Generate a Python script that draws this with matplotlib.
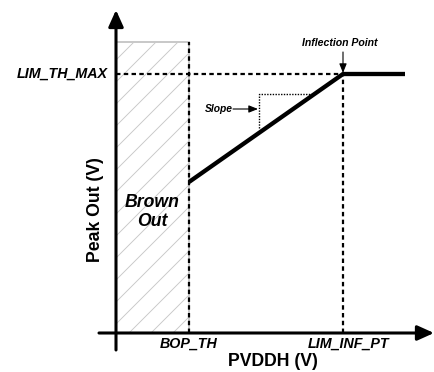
import matplotlib
matplotlib.use("Agg")
import matplotlib.pyplot as plt
from matplotlib.patches import Rectangle

plt.rcParams['font.family'] = ['Liberation Sans', 'DejaVu Sans']
plt.rcParams['hatch.color'] = '#d9d9d9'
plt.rcParams['hatch.linewidth'] = 1.0

# low dpi so the hatch spacing comes out wide; sizes scaled back by K
DPI = 66
K = 100.0 / DPI

# Constants (arbitrary units, origin at the axes crossing)
BOP_TH = 73
LIM_INF_PT = 227
X_END = 289
LIM_TH_MAX = 259
PEAK_AT_BOP = 151
BROWN_TOP = 291

# curve points
curve_x = [BOP_TH, LIM_INF_PT, X_END]
curve_y = [PEAK_AT_BOP, LIM_TH_MAX, LIM_TH_MAX]

# slope triangle
slope_x = [143, 143, 196]
slope_y = [205, 239, 239]

fig = plt.figure(figsize=(434 / DPI, 372 / DPI), dpi=DPI)
ax = fig.add_axes([0, 0, 1, 1])
ax.set_xlim(-116, 318)
ax.set_ylim(-39, 333)
ax.axis('off')

# brown out region
ax.add_patch(Rectangle((0, 0), BOP_TH, BROWN_TOP, facecolor='white',
                       edgecolor='#c8c8c8', hatch='/', linewidth=1.4 * K))

# dashed guides
dash = (0, (2, 1.5))
ax.plot([BOP_TH, BOP_TH], [0, BROWN_TOP], color='black', lw=1.6 * K, ls=dash)
ax.plot([LIM_INF_PT, LIM_INF_PT], [0, LIM_TH_MAX], color='black', lw=1.6 * K, ls=dash)
ax.plot([0, LIM_INF_PT], [LIM_TH_MAX, LIM_TH_MAX], color='black', lw=1.6 * K, ls=dash)

# slope triangle
ax.plot(slope_x, slope_y, color='black', lw=1.0 * K, ls=(0, (1, 1)))

# main curve
ax.plot(curve_x, curve_y, color='black', lw=3.1 * K, solid_capstyle='butt')

# axes with arrows
big_arrow = dict(arrowstyle='-|>,head_length=1.0,head_width=0.45', color='black',
                 lw=2.2 * K, shrinkA=0, shrinkB=0, mutation_scale=10 * K)
ax.annotate('', xy=(318, 0), xytext=(-17, 0), arrowprops=big_arrow)
ax.annotate('', xy=(0, 323), xytext=(0, -17), arrowprops=big_arrow)

# annotations
small_arrow = dict(arrowstyle='-|>,head_length=0.55,head_width=0.22', color='black',
                   lw=0.8 * K, shrinkA=0, shrinkB=0, mutation_scale=10 * K)
ax.annotate('', xy=(LIM_INF_PT, LIM_TH_MAX + 1), xytext=(LIM_INF_PT, LIM_TH_MAX + 22),
            arrowprops=small_arrow)
ax.text(LIM_INF_PT - 3, LIM_TH_MAX + 31, 'Inflection Point', ha='center', va='center',
        fontsize=7.6 * K, fontweight='bold', fontstyle='italic')

ax.annotate('', xy=(142, 224), xytext=(117, 224), arrowprops=small_arrow)
ax.text(117, 224, 'Slope', ha='right', va='center',
        fontsize=7.4 * K, fontweight='bold', fontstyle='italic')

ax.text(-8, LIM_TH_MAX, 'LIM_TH_MAX', ha='right', va='center',
        fontsize=10.3 * K, fontweight='bold', fontstyle='italic')
ax.text(BOP_TH, -11, 'BOP_TH', ha='center', va='center',
        fontsize=10.3 * K, fontweight='bold', fontstyle='italic')
ax.text(LIM_INF_PT + 6, -11, 'LIM_INF_PT', ha='center', va='center',
        fontsize=10.3 * K, fontweight='bold', fontstyle='italic')

ax.text(36, 121, 'Brown\nOut', ha='center', va='center', linespacing=1.15,
        fontsize=12.7 * K, fontweight='bold', fontstyle='italic')

ax.text(157, -29, 'PVDDH (V)', ha='center', va='center', fontsize=12.7 * K, fontweight='bold')
ax.text(-21, 123, 'Peak Out (V)', ha='center', va='center', rotation=90,
        fontsize=12.7 * K, fontweight='bold')

fig.savefig('out.png', dpi=DPI)
